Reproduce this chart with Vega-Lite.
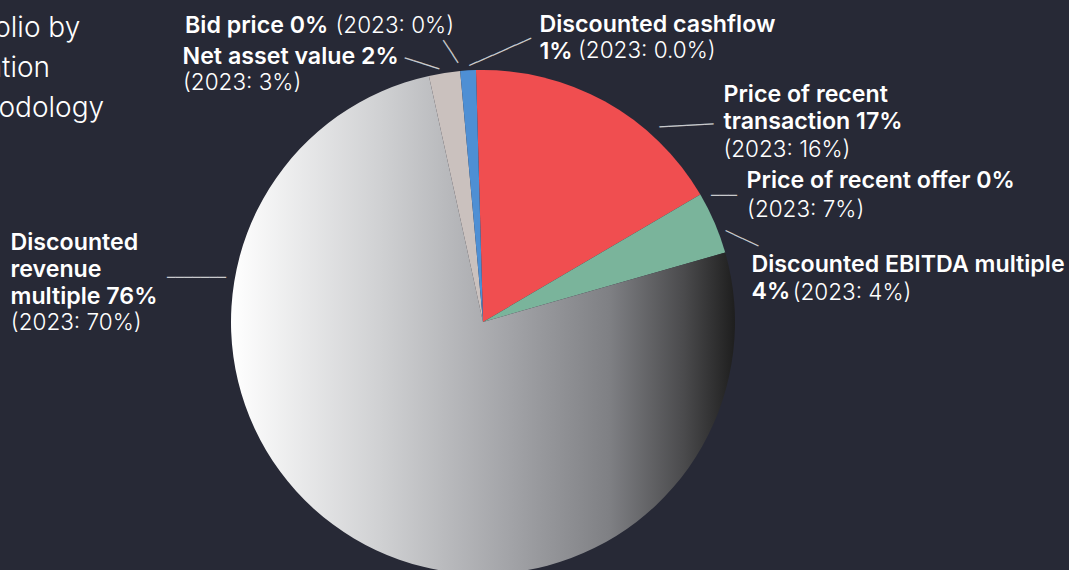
{
  "$schema": "https://vega.github.io/schema/vega-lite/v6.json",
  "width": 966,
  "height": 344,
  "autosize": {"type": "none"},
  "padding": {"left": 0, "top": 150, "right": 103, "bottom": 76},
  "background": "#272936",
  "config": {"view": {"stroke": null}},
  "title": {
    "text": ["Portfolio by", "valuation", "methodology"],
    "anchor": "start",
    "frame": "group",
    "orient": "top",
    "offset": -110,
    "dx": -67,
    "font": "Inter",
    "fontSize": 28,
    "fontWeight": 300,
    "lineHeight": 40,
    "color": "#ffffff"
  },
  "data": {
    "values": [
      {"cat": "Price of recent transaction", "value": 17, "b": "Price of recent\ntransaction 17%", "r": "(2023: 16%)"},
      {"cat": "Discounted EBITDA multiple", "value": 4, "b": "Discounted EBITDA multiple\n4%", "r": "(2023: 4%)"},
      {"cat": "Price of recent offer", "value": 0, "b": "Price of recent offer 0%", "r": "(2023: 7%)"},
      {"cat": "Discounted revenue multiple", "value": 76, "b": "Discounted\nrevenue\nmultiple 76%", "r": "(2023: 70%)"},
      {"cat": "Net asset value", "value": 2, "b": "Net asset value 2%", "r": "(2023: 3%)"},
      {"cat": "Bid price", "value": 0, "b": "Bid price 0%", "r": "(2023: 0%)"},
      {"cat": "Discounted cashflow", "value": 1, "b": "Discounted cashflow\n1%", "r": "(2023: 0.0%)"}
    ]
  },
  "transform": [
    {"window": [{"op": "row_number", "as": "rank"}]},
    {"stack": "value", "groupby": [], "sort": [{"field": "rank", "order": "ascending"}], "as": ["v0", "v1"]}
  ],
  "encoding": {
    "theta": {"field": "v0", "type": "quantitative", "stack": null, "scale": {"domain": [0, 100], "range": [-0.0279, 6.2553]}}
  },
  "layer": [
    {
      "mark": {"type": "arc", "outerRadius": 252},
      "encoding": {
        "theta2": {"field": "v1"},
        "fill": {
          "condition": {
            "test": "datum.cat === 'Discounted revenue multiple'",
            "value": {
              "gradient": "linear", "x1": 0, "y1": 0, "x2": 1, "y2": 0,
              "stops": [
                {"offset": 0, "color": "#ffffff"},
                {"offset": 0.3, "color": "#cfd0d2"},
                {"offset": 0.55, "color": "#a3a4a8"},
                {"offset": 0.75, "color": "#7f8084"},
                {"offset": 0.9, "color": "#4a4a4c"},
                {"offset": 1, "color": "#1e1e1e"}
              ]
            }
          },
          "field": "cat",
          "type": "nominal",
          "legend": null,
          "scale": {
            "domain": ["Price of recent transaction", "Discounted EBITDA multiple", "Price of recent offer", "Discounted revenue multiple", "Net asset value", "Bid price", "Discounted cashflow"],
            "range": ["#f04e50", "#7ab49b", "#7ab49b", "#a3a4a8", "#cac1be", "#cac1be", "#4e8fd4"]
          }
        }
      }
    },

    {"transform": [{"filter": "datum.cat === 'Price of recent transaction'"}],
     "mark": {"type": "text", "radius": 270, "align": "left", "baseline": "alphabetic", "font": "Inter", "fontSize": 23.2, "fontWeight": 600, "lineHeight": 27, "lineBreak": "\n", "color": "#ffffff", "dx": 248, "dy": 49.6},
     "encoding": {"text": {"field": "b"}}},
    {"transform": [{"filter": "datum.cat === 'Price of recent transaction'"}],
     "mark": {"type": "text", "radius": 270, "align": "left", "baseline": "alphabetic", "font": "Inter", "fontSize": 22.5, "fontWeight": 300, "color": "#ffffff", "dx": 248, "dy": 104.6},
     "encoding": {"text": {"field": "r"}}},
    {"transform": [{"filter": "datum.cat === 'Price of recent transaction'"}],
     "mark": {"type": "text", "radius": 270, "align": "center", "baseline": "middle", "font": "DejaVu Sans Mono", "fontSize": 15, "angle": 356.8, "color": "#c8c9cc", "dx": 206.6, "dy": 85.05, "text": "──────"},
     "encoding": {}},

    {"transform": [{"filter": "datum.cat === 'Discounted EBITDA multiple'"}],
     "mark": {"type": "text", "radius": 270, "align": "left", "baseline": "alphabetic", "font": "Inter", "fontSize": 23.2, "fontWeight": 600, "lineHeight": 27, "lineBreak": "\n", "color": "#ffffff", "dx": 35.6, "dy": 86.3},
     "encoding": {"text": {"field": "b"}}},
    {"transform": [{"filter": "datum.cat === 'Discounted EBITDA multiple'"}],
     "mark": {"type": "text", "radius": 270, "align": "left", "baseline": "alphabetic", "font": "Inter", "fontSize": 22.5, "fontWeight": 300, "color": "#ffffff", "dx": 76.8, "dy": 114.6},
     "encoding": {"text": {"field": "r"}}},
    {"transform": [{"filter": "datum.cat === 'Discounted EBITDA multiple'"}],
     "mark": {"type": "text", "radius": 270, "align": "center", "baseline": "middle", "font": "DejaVu Sans Mono", "fontSize": 15, "angle": 25.1, "color": "#c8c9cc", "dx": 46.2, "dy": 37.0, "text": "────"},
     "encoding": {}},

    {"transform": [{"filter": "datum.cat === 'Price of recent offer'"}],
     "mark": {"type": "text", "radius": 270, "align": "left", "baseline": "alphabetic", "font": "Inter", "fontSize": 23.2, "fontWeight": 600, "lineHeight": 27, "lineBreak": "\n", "color": "#ffffff", "dx": 4, "dy": -59.3},
     "encoding": {"text": {"field": "b"}}},
    {"transform": [{"filter": "datum.cat === 'Price of recent offer'"}],
     "mark": {"type": "text", "radius": 270, "align": "left", "baseline": "alphabetic", "font": "Inter", "fontSize": 22.5, "fontWeight": 300, "color": "#ffffff", "dx": 4.5, "dy": -30.9},
     "encoding": {"text": {"field": "r"}}},
    {"transform": [{"filter": "datum.cat === 'Price of recent offer'"}],
     "mark": {"type": "text", "radius": 270, "align": "center", "baseline": "middle", "font": "DejaVu Sans Mono", "fontSize": 14.4, "angle": 0, "color": "#c8c9cc", "dx": -18.5, "dy": -51.6, "text": "───"},
     "encoding": {}},

    {"transform": [{"filter": "datum.cat === 'Discounted revenue multiple'"}],
     "mark": {"type": "text", "radius": 270, "align": "left", "baseline": "alphabetic", "font": "Inter", "fontSize": 23.2, "fontWeight": 600, "lineHeight": 27, "lineBreak": "\n", "color": "#ffffff", "dx": -732, "dy": 2.4},
     "encoding": {"text": {"field": "b"}}},
    {"transform": [{"filter": "datum.cat === 'Discounted revenue multiple'"}],
     "mark": {"type": "text", "radius": 270, "align": "left", "baseline": "alphabetic", "font": "Inter", "fontSize": 22.5, "fontWeight": 300, "color": "#ffffff", "dx": -731.7, "dy": 82.4},
     "encoding": {"text": {"field": "r"}}},
    {"transform": [{"filter": "datum.cat === 'Discounted revenue multiple'"}],
     "mark": {"type": "text", "radius": 270, "align": "center", "baseline": "middle", "font": "DejaVu Sans Mono", "fontSize": 14, "angle": 0, "color": "#c8c9cc", "dx": -546, "dy": 30.4, "text": "───────"},
     "encoding": {}},

    {"transform": [{"filter": "datum.cat === 'Net asset value'"}],
     "mark": {"type": "text", "radius": 270, "align": "left", "baseline": "alphabetic", "font": "Inter", "fontSize": 23.2, "fontWeight": 600, "lineHeight": 27, "lineBreak": "\n", "color": "#ffffff", "dx": -242.5, "dy": 5.7},
     "encoding": {"text": {"field": "b"}}},
    {"transform": [{"filter": "datum.cat === 'Net asset value'"}],
     "mark": {"type": "text", "radius": 270, "align": "left", "baseline": "alphabetic", "font": "Inter", "fontSize": 22.5, "fontWeight": 300, "color": "#ffffff", "dx": -242, "dy": 31.7},
     "encoding": {"text": {"field": "r"}}},
    {"transform": [{"filter": "datum.cat === 'Net asset value'"}],
     "mark": {"type": "text", "radius": 270, "align": "center", "baseline": "middle", "font": "DejaVu Sans Mono", "fontSize": 15, "angle": 17.9, "color": "#c8c9cc", "dx": -1.25, "dy": 5.87, "text": "────"},
     "encoding": {}},

    {"transform": [{"filter": "datum.cat === 'Bid price'"}],
     "mark": {"type": "text", "radius": 270, "align": "left", "baseline": "alphabetic", "font": "Inter", "fontSize": 23.2, "fontWeight": 600, "lineHeight": 27, "lineBreak": "\n", "color": "#ffffff", "dx": -273.5, "dy": -19.8},
     "encoding": {"text": {"field": "b"}}},
    {"transform": [{"filter": "datum.cat === 'Bid price'"}],
     "mark": {"type": "text", "radius": 270, "align": "left", "baseline": "alphabetic", "font": "Inter", "fontSize": 22.5, "fontWeight": 300, "color": "#ffffff", "dx": -123, "dy": -19.8},
     "encoding": {"text": {"field": "r"}}},
    {"transform": [{"filter": "datum.cat === 'Bid price'"}],
     "mark": {"type": "text", "radius": 270, "align": "center", "baseline": "middle", "font": "DejaVu Sans Mono", "fontSize": 15, "angle": 56.9, "color": "#c8c9cc", "dx": -5.7, "dy": 5.8, "text": "───"},
     "encoding": {}},

    {"transform": [{"filter": "datum.cat === 'Discounted cashflow'"}],
     "mark": {"type": "text", "radius": 270, "align": "left", "baseline": "alphabetic", "font": "Inter", "fontSize": 23.2, "fontWeight": 600, "lineHeight": 27, "lineBreak": "\n", "color": "#ffffff", "dx": 81, "dy": -21.4},
     "encoding": {"text": {"field": "b"}}},
    {"transform": [{"filter": "datum.cat === 'Discounted cashflow'"}],
     "mark": {"type": "text", "radius": 270, "align": "left", "baseline": "alphabetic", "font": "Inter", "fontSize": 22.5, "fontWeight": 300, "color": "#ffffff", "dx": 119.5, "dy": 5.2},
     "encoding": {"text": {"field": "r"}}},
    {"transform": [{"filter": "datum.cat === 'Discounted cashflow'"}],
     "mark": {"type": "text", "radius": 270, "align": "center", "baseline": "middle", "font": "DejaVu Sans Mono", "fontSize": 14, "angle": 336.1, "color": "#c8c9cc", "dx": 38.6, "dy": 16.5, "text": "────────"},
     "encoding": {}}
  ]
}
